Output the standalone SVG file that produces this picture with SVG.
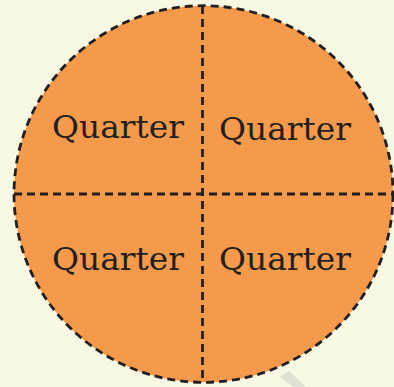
<svg xmlns="http://www.w3.org/2000/svg" width="394" height="387" viewBox="0 0 394 387">
<style>
.dash{fill:none;stroke:#231f20;stroke-width:2.8;stroke-dasharray:8 5}
.lbl{font-family:"DejaVu Serif","Liberation Serif",serif;font-size:31px;fill:#231f20}
</style>
<rect width="394" height="387" fill="#f7f9e5"/>
<polygon points="280,377 289,371 306,387 293,387" fill="#dfe2d2"/>
<g id="circle">
<ellipse cx="203.5" cy="194" rx="189.5" ry="188.3" fill="#f5994b"/>
<ellipse cx="203.5" cy="194" rx="189.5" ry="188.3" class="dash"/>
</g>
<g id="dividers">
<line x1="202.5" y1="6" x2="202.5" y2="382" class="dash"/>
<line x1="14" y1="194" x2="393" y2="194" class="dash"/>
</g>
<g id="q1"><text class="lbl" x="52" y="138" textLength="132" lengthAdjust="spacingAndGlyphs">Quarter</text></g>
<g id="q2"><text class="lbl" x="219" y="140" textLength="132" lengthAdjust="spacingAndGlyphs">Quarter</text></g>
<g id="q3"><text class="lbl" x="52" y="270" textLength="132" lengthAdjust="spacingAndGlyphs">Quarter</text></g>
<g id="q4"><text class="lbl" x="219" y="270" textLength="132" lengthAdjust="spacingAndGlyphs">Quarter</text></g>
</svg>
